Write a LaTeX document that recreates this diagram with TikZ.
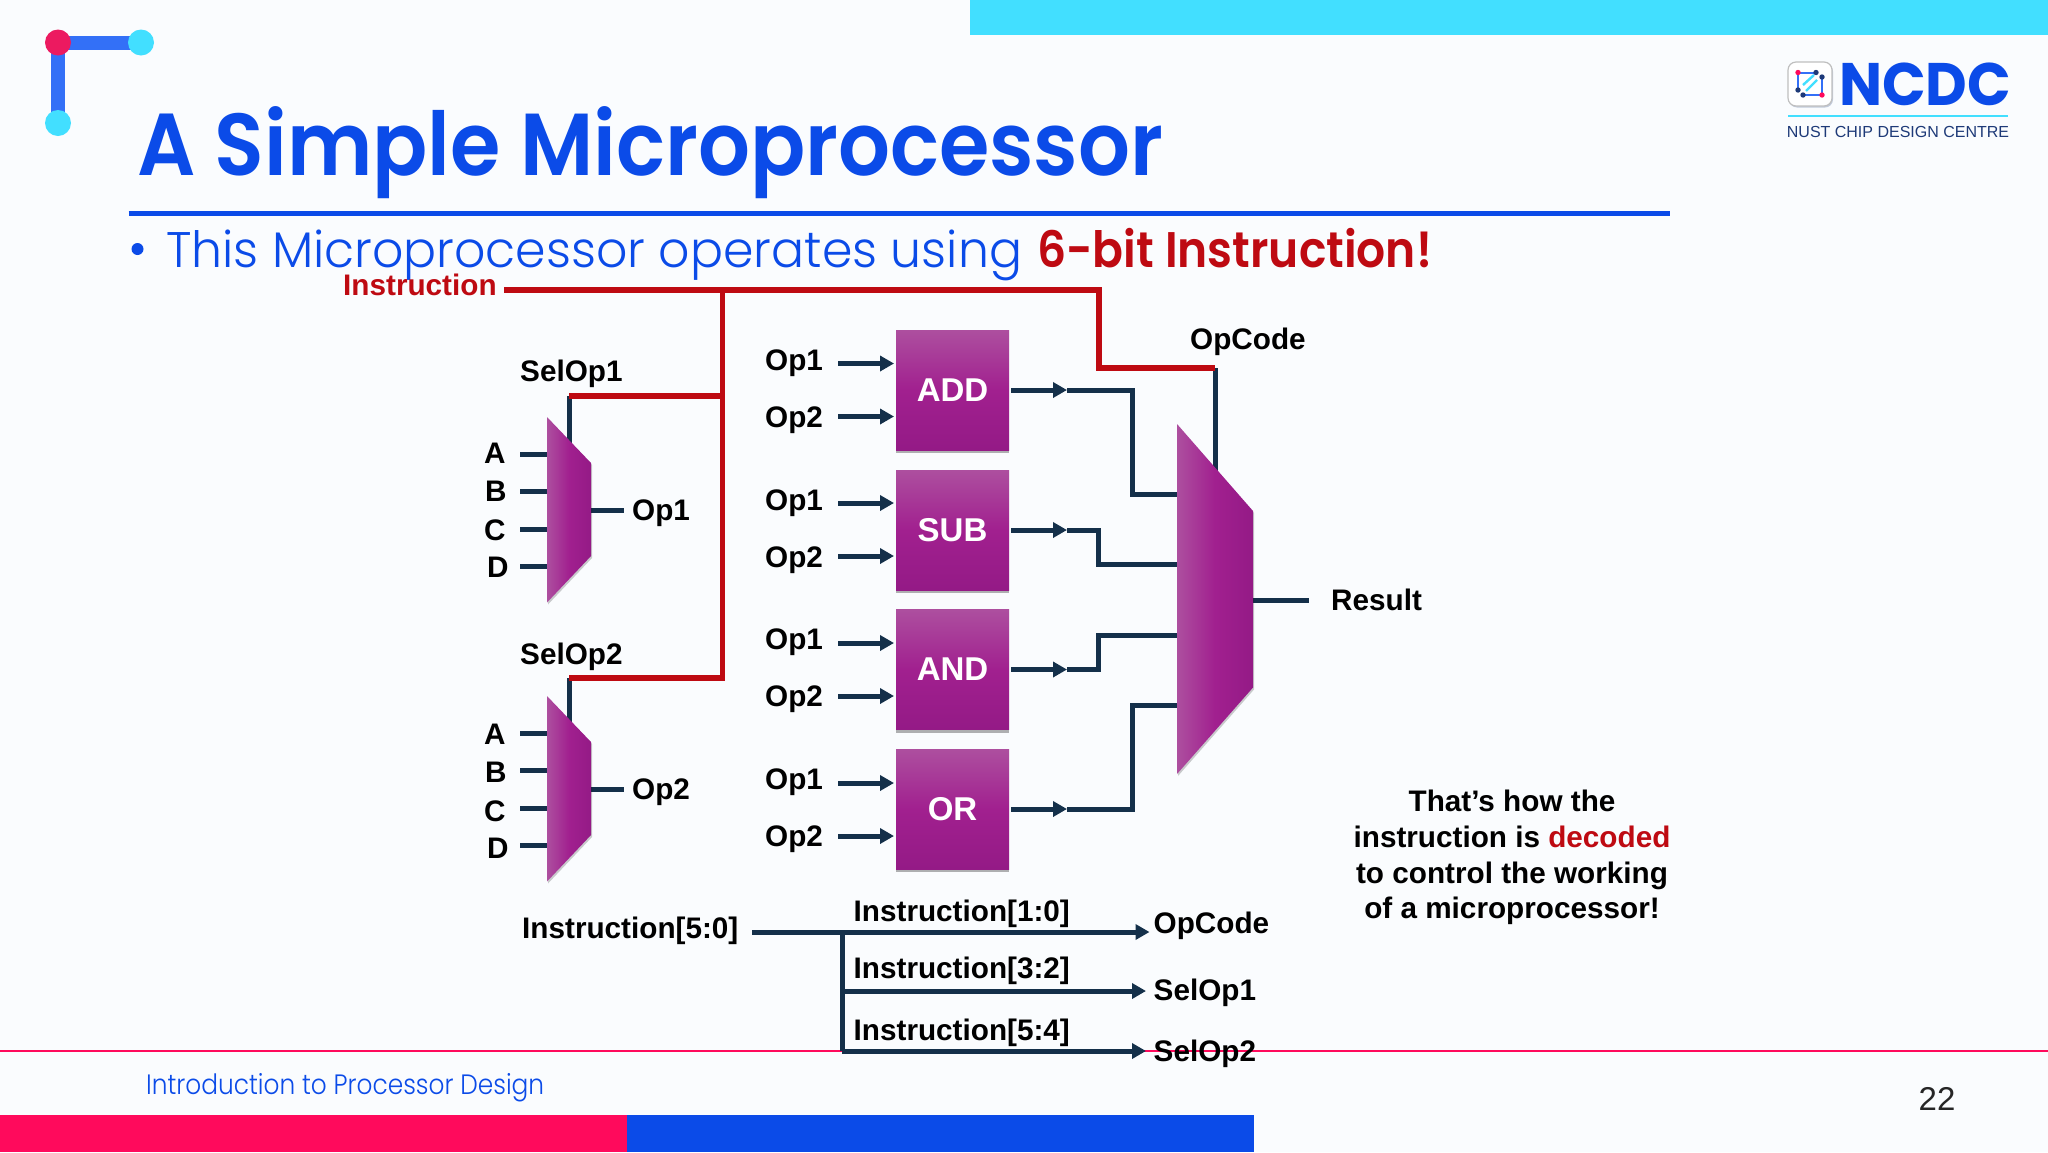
\documentclass[tikz,border=0pt]{standalone}
\usepackage{fontspec}
\setmainfont{Liberation Sans}
\newfontfamily\titlef{Poppins}[UprightFont={* SemiBold},BoldFont={* SemiBold}]
\newfontfamily\thinf{Poppins}[UprightFont={* Light}]
\newfontfamily\logof{Poppins}[UprightFont={* Bold}]
\usetikzlibrary{arrows.meta,shadows}
\definecolor{pagebg}{HTML}{FAFCFE}
\definecolor{titleblue}{HTML}{0B4BE8}
\definecolor{barcyan}{HTML}{42DFFF}
\definecolor{barpink}{HTML}{FF0A5C}
\definecolor{dotpink}{HTML}{EC1A60}
\definecolor{logobar}{HTML}{3370F7}
\definecolor{wire}{HTML}{14304A}
\definecolor{redwire}{HTML}{BE0A12}
\definecolor{purpA}{HTML}{AD4F9F}
\definecolor{purpB}{HTML}{A1208F}
\definecolor{purpC}{HTML}{941A86}
\definecolor{navy}{HTML}{1E3A78}
\tikzset{
  lab/.style={inner sep=0pt,font=\fontsize{29.7}{30}\bfseries\selectfont,text=black,text height=21pt,text depth=0pt,anchor=west},
  opbox/.style={rectangle,inner sep=0pt,minimum width=113pt,minimum height=120pt,top color=purpA,bottom color=purpC,middle color=purpB,text=white,font=\fontsize{33}{33}\bfseries\selectfont,drop shadow={shadow xshift=0pt,shadow yshift=-3pt,opacity=.3,fill=black}},
  wireln/.style={draw=wire,line width=5pt},
  redln/.style={draw=redwire,line width=5.5pt},
  arr/.style={wireln,-{Triangle[length=14pt,width=15pt]}},
  muxfill/.style={left color=purpA,right color=purpC,middle color=purpB},
  notetxt/.style={inner sep=0pt,text=black,anchor=base,font=\fontsize{29.7}{30}\bfseries\selectfont},
}
\newcommand{\inpair}[5]{%
  \coordinate (#1a1) at (838,#2); \coordinate (#1b1) at (894,#2);
  \coordinate (#1a2) at (838,#3); \coordinate (#1b2) at (894,#3);
  \node[lab] (#1l1) at (765,#4) {Op1};
  \node[lab] (#1l2) at (765,#5) {Op2};
  \draw[arr] (#1a1) -- (#1b1);
  \draw[arr] (#1a2) -- (#1b2);
}
\newcommand{\muxunit}[5]{% name, top y, output label, select y, input list
  \coordinate (#1s) at (569,#4);
  \coordinate (#1t) at (569,#2+30);
  \draw[wireln] (#1s) -- (#1t);
  \foreach \nm/\wy/\ly/\lx in {#5}{
    \coordinate (#1\nm a) at (520,#2+\wy);
    \coordinate (#1\nm b) at (550,#2+\wy);
    \draw[wireln] (#1\nm a) -- (#1\nm b);
    \node[lab] (#1\nm l) at (\lx,#2+\ly) {\nm};
  }
  \coordinate (#1o) at (591,#2+93);
  \coordinate (#1e) at (624,#2+93);
  \draw[wireln] (#1o) -- (#1e);
  \shade[muxfill,drop shadow={shadow xshift=1pt,shadow yshift=-2pt,opacity=.2,fill=black}] (547,#2) -- (591,#2+46) -- (591,#2+139) -- (547,#2+185.5) -- cycle;
  \node[lab] (#1ol) at (632,#2+93) {#3};
}
\begin{document}
\begin{tikzpicture}[x=1pt,y=-1pt]
\useasboundingbox (0,0) rectangle (2048,1152);
\fill[pagebg] (0,0) rectangle (2048,1152);
% page furniture
\fill[barcyan] (970,0) rectangle (2048,34.5);
\fill[barpink] (0,1115) rectangle (627,1152);
\fill[titleblue] (627,1115) rectangle (1254,1152);
\draw[barpink,line width=1.4pt] (0,1051) -- (2048,1051);
% corner mark
\draw[logobar,line width=14pt] (141,42.5) -- (58,42.5) -- (58,123);
\fill[dotpink] (58,42.5) ellipse (13pt and 13pt);
\fill[barcyan] (141,42.5) ellipse (13pt and 13pt);
\fill[barcyan] (58,123) ellipse (13pt and 13pt);
% title
\node[inner sep=0pt,anchor=base west,text=titleblue] (title) at (137,175) {\scalebox{.926}[1]{\titlef\fontsize{88}{88}\selectfont A Simple Microprocessor}};
\draw[titleblue,line width=5pt] (128.5,213) -- (1670,213);
\fill[titleblue] (137.5,249) circle (6pt);
\node[inner sep=0pt,anchor=base west,text=titleblue] (sub) at (166,267) {\scalebox{.979}[1]{\thinf\fontsize{50}{50}\selectfont This Microprocessor operates using}};
\node[inner sep=0pt,anchor=base west,text=redwire] (subred) at (1037,267) {\scalebox{.912}[1]{\titlef\fontsize{50}{50}\selectfont 6-bit Instruction!}};
% logo
\draw[draw=black!25,fill=white,line width=1.2pt,rounded corners=8pt,drop shadow={shadow xshift=1pt,shadow yshift=-1.5pt,opacity=.25,fill=navy}] (1788,62) rectangle (1832,106);
\draw[logobar,line width=2pt] (1816,72.5) -- (1798,72.5) -- (1798,90);
\draw[logobar,line width=2pt] (1822,77) -- (1822,95) -- (1803,95);
\draw[barcyan,line width=2.4pt] (1803,85) -- (1814,75);
\draw[barcyan,line width=2.4pt] (1806,91) -- (1817,80);
\foreach \px/\py in {1798/72.5,1822/95}{\fill[barpink] (\px,\py) circle (2.7pt);}
\foreach \px/\py in {1816/72.5,1822/77,1798/90,1803/95}{\fill[navy] (\px,\py) circle (2.7pt);}
\node[inner sep=0pt,anchor=base west,text=titleblue] (ncdc) at (1839,105) {\scalebox{.955}[1]{\logof\fontsize{60}{60}\selectfont NCDC}};
\draw[barcyan,line width=2pt] (1788,116) -- (2008,116);
\node[inner sep=0pt,text=navy] (nust) at (1898,132) {\fontsize{16}{16}\selectfont NUST CHIP DESIGN CENTRE};
% red control wires
\node[lab,text=redwire] (instr) at (343,285) {Instruction};
\coordinate (rstart) at (504,290);
\coordinate (rj) at (722.5,290);
\coordinate (rj1) at (722.5,396);
\coordinate (rj2) at (722.5,678);
\coordinate (rcorner) at (1099,290);
\coordinate (rdown) at (1099,368);
\coordinate (opc) at (1215,368);
\coordinate (opm) at (1215,472);
\draw[wireln] (opc) -- (opm);
\draw[redln] (rstart) -- (rcorner) -- (rdown) -- (opc);
% left muxes
\node[lab] (sel1) at (520,371) {SelOp1};
\node[lab] (sel2) at (520,654) {SelOp2};
\muxunit{ma}{417}{Op1}{396}{A/37/36/484,B/74.5/74/485,C/112/113/484,D/149/150/487}
\muxunit{mb}{696}{Op2}{678}{A/37/38/484,B/74.5/76/485,C/112/115/484,D/149/152/487}
\draw[redln] (rj) -- (rj2) -- (mbs);
\draw[redln] (rj1) -- (mas);
% op boxes
\node[opbox] (add) at (952.5,390) {\raisebox{-1.5pt}{ADD}};
\node[opbox] (subb) at (952.5,530) {\raisebox{-1.5pt}{SUB}};
\node[opbox] (and) at (952.5,669.5) {\raisebox{-1.5pt}{AND}};
\node[opbox] (or) at (952.5,809) {\raisebox{-1.5pt}{OR}};
\inpair{a}{363.5}{416.5}{360}{417}
\inpair{b}{503}{556}{500}{557}
\inpair{c}{643}{696}{639}{696}
\inpair{d}{783}{836}{779}{836}
% result mux
\foreach \nm/\by/\jx/\my in {add/390/1132/494,subb/530/1098.7/564,and/669.5/1098.7/635,or/809/1132/705}{
  \coordinate (\nm o) at (1011,\by);
  \coordinate (\nm h) at (1067,\by);
  \coordinate (\nm j) at (\jx,\by);
  \coordinate (\nm k) at (\jx,\my);
  \coordinate (\nm m) at (1180,\my);
  \draw[arr] (\nm o) -- (\nm h);
  \draw[wireln] (\nm h) -- (\nm j) -- (\nm k) -- (\nm m);
}
\coordinate (resa) at (1252,600);
\coordinate (resb) at (1309,600);
\draw[wireln] (resa) -- (resb);
\shade[muxfill,drop shadow={shadow xshift=1pt,shadow yshift=-2pt,opacity=.2,fill=black}] (1177,424) -- (1253,511) -- (1253,687.5) -- (1177,774) -- cycle;
\node[lab] (opcode) at (1190,339) {OpCode};
\node[lab] (result) at (1331,600) {Result};
% note
\node[notetxt] (note1) at (1512,811) {That’s how the};
\node[notetxt] (note2) at (1512,847) {instruction is \textcolor{redwire}{decoded}};
\node[notetxt] (note3) at (1512,883) {to control the working};
\node[notetxt] (note4) at (1512,918) {of a microprocessor!};
% decode table
\node[lab] (i50) at (522,928) {Instruction[5:0]};
\node[lab] (i10) at (853.5,911) {Instruction[1:0]};
\node[lab] (i32) at (853.5,968) {Instruction[3:2]};
\node[lab] (i54) at (853.5,1030) {Instruction[5:4]};
\coordinate (dstart) at (752,932);
\coordinate (dj1) at (842,932);
\coordinate (dj2) at (842,991);
\coordinate (dj3) at (842,1051);
\coordinate (dend1) at (1149.5,932);
\coordinate (dend2) at (1146,991);
\coordinate (dend3) at (1146,1051);
\draw[arr] (dstart) -- (dend1);
\draw[arr] (dj2) -- (dend2);
\draw[arr] (dj3) -- (dend3);
\draw[wireln] (dj1) -- (dj3);
\node[lab] (o1) at (1153.5,923) {OpCode};
\node[lab] (o2) at (1153.5,990) {SelOp1};
\node[lab] (o3) at (1153.5,1051) {SelOp2};
% footer
\node[inner sep=0pt,anchor=base west,text=titleblue] (foot) at (146,1094) {\scalebox{.887}[1]{\thinf\fontsize{28}{28}\selectfont Introduction to Processor Design}};
\node[inner sep=0pt,text=black!85] (pg) at (1937,1099) {\fontsize{33}{33}\selectfont 22};
\end{tikzpicture}
\end{document}
